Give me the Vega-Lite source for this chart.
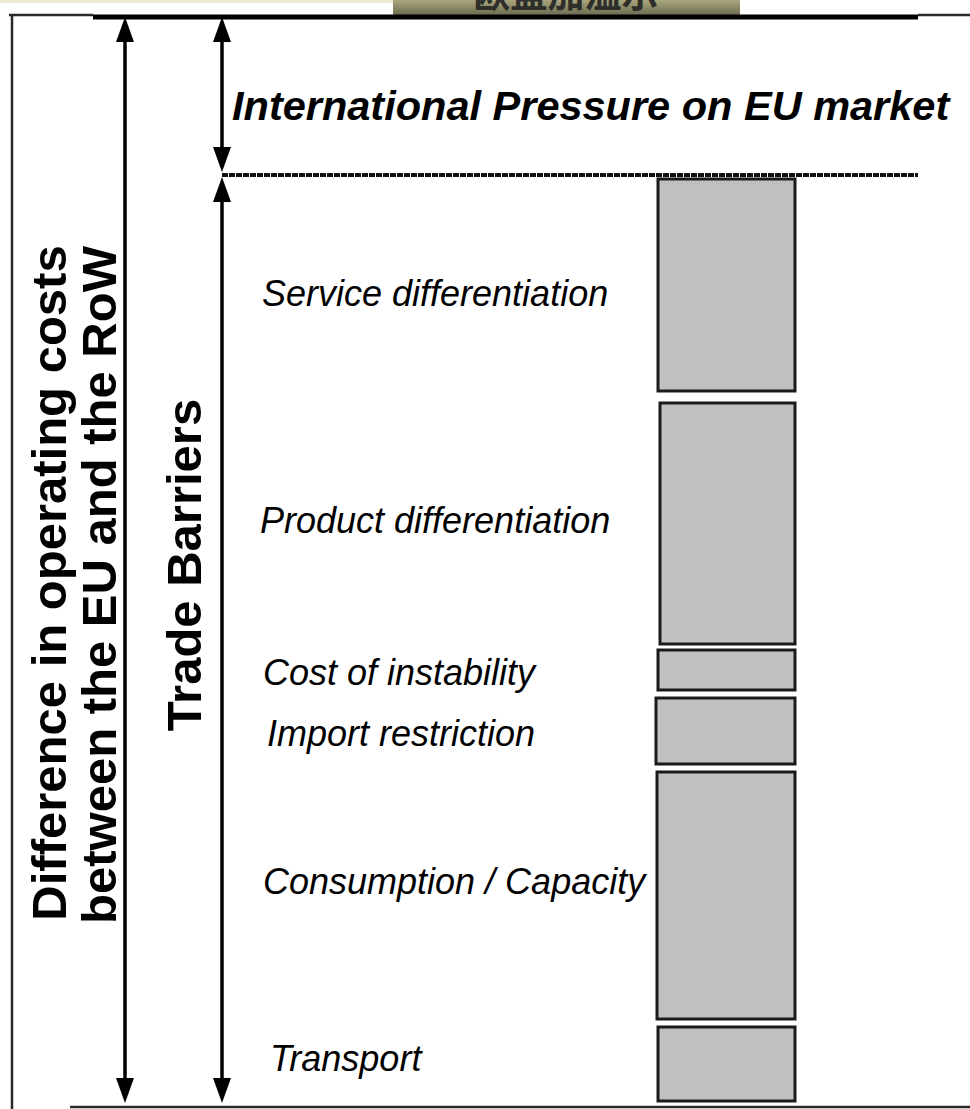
{
  "$schema": "https://vega.github.io/schema/vega-lite/v6.json",
  "width": 970,
  "height": 1109,
  "padding": 0,
  "autosize": {"type": "none"},
  "background": "white",
  "config": {"view": {"stroke": null}},
  "datasets": {
    "strip": [{"x": 0, "x2": 393, "y": 0, "y2": 3}],
    "banner": [{"x": 393, "x2": 740, "y": 0, "y2": 19}],
    "borders": [
      {"x": 12, "x2": 12, "y": 15, "y2": 1109},
      {"x": 9, "x2": 93, "y": 15, "y2": 15},
      {"x": 918, "x2": 970, "y": 15, "y2": 15},
      {"x": 70, "x2": 970, "y": 1107, "y2": 1107}
    ],
    "thick": [{"x": 93, "x2": 918, "y": 17, "y2": 17}],
    "dotted": [{"x": 222, "x2": 918, "y": 175, "y2": 175}],
    "shafts": [
      {"x": 125, "x2": 125, "y": 22, "y2": 1098},
      {"x": 222, "x2": 222, "y": 22, "y2": 167},
      {"x": 222, "x2": 222, "y": 182, "y2": 1098}
    ],
    "heads": [
      {"x": 125, "y": 17, "dir": "up"},
      {"x": 125, "y": 1103, "dir": "down"},
      {"x": 222, "y": 17, "dir": "up"},
      {"x": 222, "y": 172, "dir": "down"},
      {"x": 222, "y": 177, "dir": "up"},
      {"x": 222, "y": 1103, "dir": "down"}
    ],
    "bars": [
      {"factor": "Service differentiation", "x": 658, "x2": 795, "y": 179, "y2": 391},
      {"factor": "Product differentiation", "x": 660, "x2": 795, "y": 403, "y2": 644},
      {"factor": "Cost of instability", "x": 658, "x2": 795, "y": 650, "y2": 690},
      {"factor": "Import restriction", "x": 656, "x2": 795, "y": 698, "y2": 764},
      {"factor": "Consumption / Capacity", "x": 657, "x2": 795, "y": 772, "y2": 1019},
      {"factor": "Transport", "x": 658, "x2": 795, "y": 1027, "y2": 1101}
    ],
    "labels": [
      {"label": "Service differentiation", "x": 262, "y": 306},
      {"label": "Product differentiation", "x": 260, "y": 533},
      {"label": "Cost of instability", "x": 263, "y": 685},
      {"label": "Import restriction", "x": 267, "y": 746},
      {"label": "Consumption / Capacity", "x": 263, "y": 894},
      {"label": "Transport", "x": 270, "y": 1071}
    ],
    "header": [{"label": "International Pressure on EU market", "x": 232, "y": 120}],
    "vlabels": [
      {"label": "Difference in operating costs", "x": 66, "y": 583},
      {"label": "between the EU and the RoW", "x": 116, "y": 585},
      {"label": "Trade Barriers", "x": 201, "y": 565}
    ],
    "cjk": [{"label": "欧盟加温示", "x": 566, "y": 8}]
  },
  "encoding": {
    "x": {"field": "x", "type": "quantitative", "scale": {"domain": [0, 970], "nice": false, "zero": false}, "axis": null},
    "y": {"field": "y", "type": "quantitative", "scale": {"domain": [0, 1109], "reverse": true, "nice": false, "zero": false}, "axis": null}
  },
  "layer": [
    {
      "data": {"name": "strip"},
      "mark": {"type": "rect", "color": "#ebe9d3"},
      "encoding": {"x2": {"field": "x2"}, "y2": {"field": "y2"}}
    },
    {
      "data": {"name": "banner"},
      "mark": {
        "type": "rect",
        "color": {"gradient": "linear", "x1": 0, "y1": 0, "x2": 0, "y2": 1,
          "stops": [{"offset": 0, "color": "#a9a67e"}, {"offset": 1, "color": "#5e5c45"}]}
      },
      "encoding": {"x2": {"field": "x2"}, "y2": {"field": "y2"}}
    },
    {
      "data": {"name": "cjk"},
      "mark": {"type": "text", "font": "Noto Sans CJK SC", "fontWeight": "bold", "fontSize": 37, "align": "center", "baseline": "alphabetic", "color": "#2e2e2a"},
      "encoding": {"text": {"field": "label"}}
    },
    {
      "data": {"name": "borders"},
      "mark": {"type": "rule", "color": "#2a2a2a", "strokeWidth": 2.5},
      "encoding": {"x2": {"field": "x2"}, "y2": {"field": "y2"}}
    },
    {
      "data": {"name": "thick"},
      "mark": {"type": "rule", "color": "#000000", "strokeWidth": 5},
      "encoding": {"x2": {"field": "x2"}, "y2": {"field": "y2"}}
    },
    {
      "data": {"name": "dotted"},
      "mark": {"type": "rule", "color": "#111111", "strokeWidth": 4, "strokeDash": [6, 1]},
      "encoding": {"x2": {"field": "x2"}, "y2": {"field": "y2"}}
    },
    {
      "data": {"name": "shafts"},
      "mark": {"type": "rule", "color": "#000000", "strokeWidth": 3.5},
      "encoding": {"x2": {"field": "x2"}, "y2": {"field": "y2"}}
    },
    {
      "data": {"name": "heads"},
      "mark": {"type": "point", "filled": true, "color": "#000000", "opacity": 1, "size": 625, "strokeWidth": 0},
      "encoding": {
        "shape": {"field": "dir", "type": "nominal", "legend": null,
          "scale": {"domain": ["up", "down"], "range": ["M0,0L0.72,2L-0.72,2Z", "M0,0L0.72,-2L-0.72,-2Z"]}}
      }
    },
    {
      "data": {"name": "bars"},
      "mark": {"type": "rect", "color": "#c0c0c0", "stroke": "#1a1a1a", "strokeWidth": 3},
      "encoding": {"x2": {"field": "x2"}, "y2": {"field": "y2"}}
    },
    {
      "data": {"name": "labels"},
      "mark": {"type": "text", "font": "Liberation Sans", "fontStyle": "italic", "fontSize": 36, "align": "left", "baseline": "alphabetic", "color": "#000000"},
      "encoding": {"text": {"field": "label"}}
    },
    {
      "data": {"name": "header"},
      "mark": {"type": "text", "font": "Liberation Sans", "fontStyle": "italic", "fontWeight": "bold", "fontSize": 41.5, "align": "left", "baseline": "alphabetic", "color": "#000000"},
      "encoding": {"text": {"field": "label"}}
    },
    {
      "data": {"name": "vlabels"},
      "mark": {"type": "text", "font": "Liberation Sans", "fontWeight": "bold", "fontSize": 49, "angle": 270, "align": "center", "baseline": "alphabetic", "color": "#000000"},
      "encoding": {"text": {"field": "label"}}
    }
  ]
}
